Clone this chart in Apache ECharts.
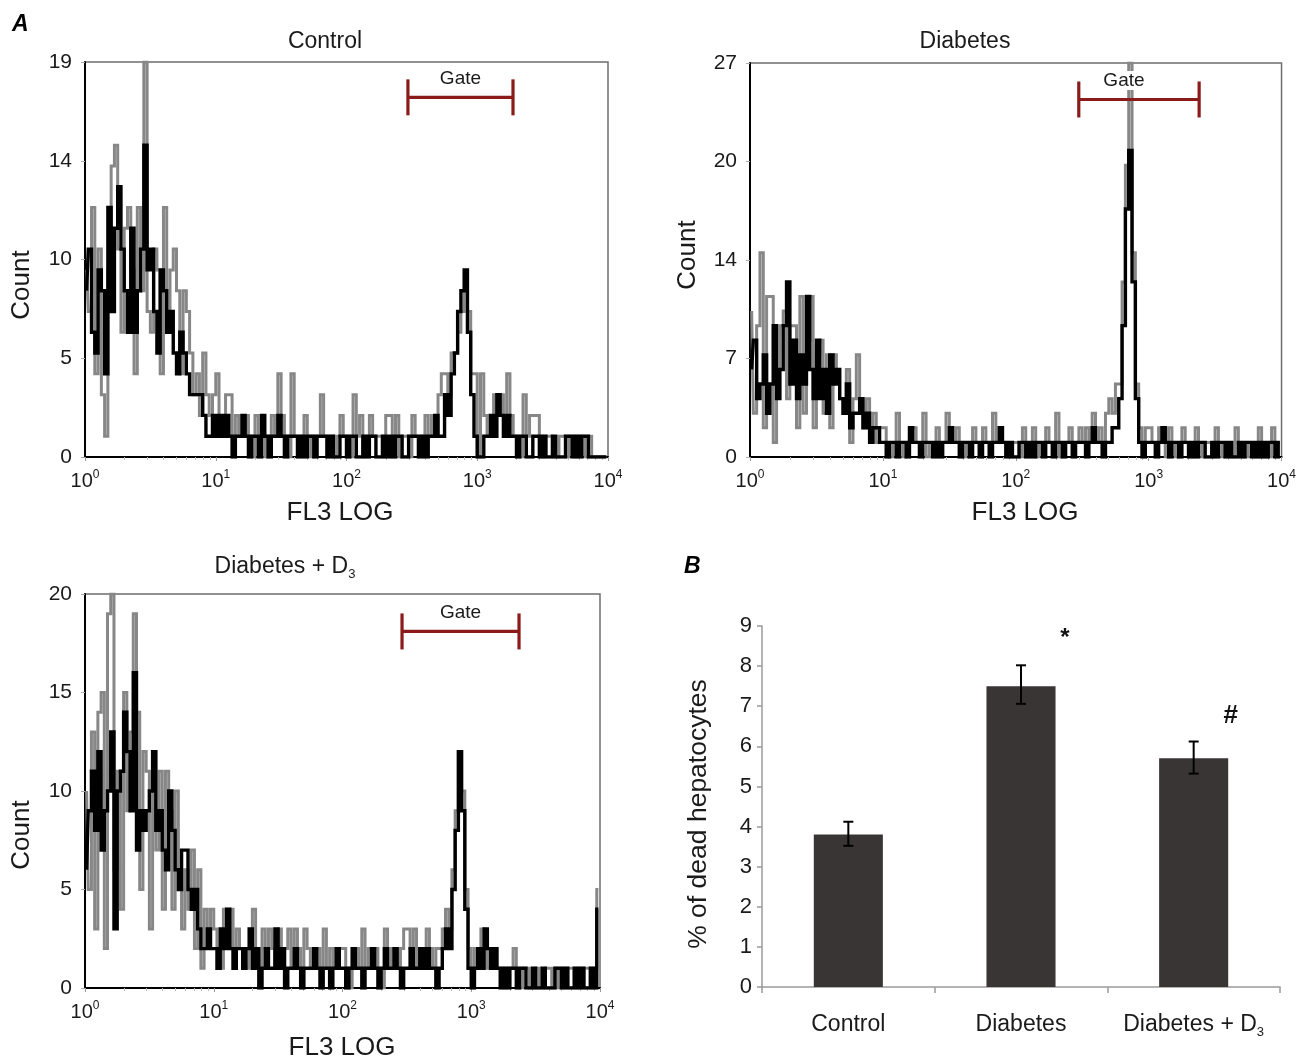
<!DOCTYPE html>
<html>
<head>
<meta charset="utf-8">
<script src="https://cdn.jsdelivr.net/npm/echarts@6/dist/echarts.min.js"></script>
<style>
html,body{margin:0;padding:0;background:#fff;}
#chart{width:1299px;height:1062px;}
</style>
</head>
<body>
<div id="chart"></div>
<script>
// ---------------- DATA ----------------
// Histogram counts, 40 channels per decade from 10^0 to 10^4 (160 channels)
const controlBlack = [
  8,10,6,5,9,8,4,12,7,11, 13,10,8,6,11,6,8,10,15,9, 10,7,5,9,8,6,7,5,4,6, 5,4,3,3,3,3,2,1,1,2,
  1,2,1,2,1,0,1,1,2,1, 0,1,1,0,2,1,0,1,1,2, 1,0,1,1,1,0,1,0,1,1, 0,1,1,1,0,1,0,0,1,1,
  0,1,1,0,0,1,0,1,1,0, 0,1,0,1,0,1,1,0,0,1, 1,1,0,1,0,1,1,2,1,1, 3,2,4,5,7,8,9,6,3,1,
  0,0,1,1,2,1,3,2,1,2, 1,1,0,1,1,0,0,1,1,0, 1,0,0,1,0,0,0,1,1,0, 1,0,1,1,0,0,0,0,0,0
];
const controlGray = [
  9,7,12,4,10,3,1,9,14,15, 10,6,11,12,9,4,12,8,19,7, 6,10,9,4,12,7,9,10,8,4, 8,7,5,3,4,2,5,3,2,3,
  4,1,2,3,3,1,2,1,1,2, 1,0,2,1,1,0,1,2,1,4, 2,1,0,4,1,1,1,2,1,0, 1,1,3,1,1,1,0,1,2,1,
  1,0,3,1,2,0,1,2,1,1, 1,0,2,2,0,2,0,1,1,0, 2,1,1,1,2,1,2,1,3,4, 4,3,5,5,6,7,8,7,4,4,
  0,4,2,1,1,3,2,3,2,4, 2,1,1,0,3,1,2,2,2,1, 0,1,1,0,0,1,1,0,1,1, 0,1,1,0,1,0,0,0,0,0
];
const diabetesBlack = [
  6,8,4,5,7,3,5,9,4,6, 9,12,5,8,4,7,5,11,6,4, 8,4,6,3,7,5,6,4,3,5, 2,3,3,4,2,3,1,2,2,1,
  1,0,1,1,0,1,1,0,2,1, 1,0,1,1,1,0,1,0,1,1, 2,1,1,0,1,1,0,1,1,0, 1,1,0,1,1,2,1,0,1,0,
  0,1,1,0,1,0,1,1,0,1, 1,0,1,1,0,1,1,0,1,1, 1,0,1,2,1,1,0,1,1,2, 2,4,9,17,21,12,4,1,0,1,
  1,1,0,1,2,1,0,1,1,0, 1,1,0,1,0,1,1,0,0,1, 0,1,1,0,1,0,0,1,0,1, 1,0,1,0,1,0,1,1,0,1
];
const diabetesGray = [
  10,3,9,14,2,11,11,1,6,9, 10,4,9,9,2,11,3,8,11,2, 7,8,3,7,2,7,6,4,3,6, 1,4,7,4,2,4,1,3,1,2,
  2,1,0,1,3,1,0,1,2,2, 1,1,3,0,1,1,2,1,1,3, 1,1,2,1,0,1,1,2,1,1, 2,1,1,3,1,1,1,1,0,1,
  1,0,2,1,1,2,0,1,1,2, 1,1,3,0,1,1,2,1,1,2, 1,2,1,3,1,2,1,3,4,3, 5,5,12,20,27,14,5,2,1,2,
  2,1,1,2,1,0,2,1,0,1, 2,1,1,0,2,1,0,1,1,0, 2,1,0,1,1,0,2,1,1,0, 1,1,0,2,0,1,0,2,1,1
];
const d3Black = [
  6,9,11,8,12,7,9,10,13,3, 10,11,14,12,9,16,7,9,8,9, 10,12,8,9,7,6,10,8,6,5, 7,7,5,4,5,3,2,2,3,2,
  2,1,3,2,4,2,1,2,2,1, 2,3,1,2,0,1,2,1,1,3, 1,2,0,1,1,2,1,0,1,1, 1,2,1,0,1,1,0,1,2,1,
  1,0,1,2,1,1,0,1,1,2, 1,0,1,2,1,1,2,1,0,1, 1,2,1,1,2,1,2,1,1,0, 1,2,3,2,5,8,12,9,4,1,
  0,1,2,1,3,2,1,2,1,0, 1,0,1,1,0,1,1,0,0,1, 0,0,1,0,0,0,1,1,0,1, 0,0,1,0,1,0,0,1,0,4
];
const d3Gray = [
  10,5,13,3,14,15,2,19,20,6, 11,4,15,9,13,19,14,5,12,11, 3,12,7,11,4,11,9,4,10,6, 3,6,4,7,2,6,1,4,2,4,
  3,2,1,4,2,4,1,3,2,2, 1,2,4,2,1,3,2,3,2,1, 3,1,2,3,1,3,2,1,3,2, 1,1,2,1,3,1,2,1,1,2,
  2,1,0,1,2,1,3,1,2,1, 2,1,0,3,1,2,1,1,2,3, 3,2,3,1,1,2,3,2,1,2, 2,3,4,3,6,9,12,10,5,2,
  1,2,1,3,2,1,2,1,1,1, 0,1,1,2,1,0,1,1,0,0, 1,0,0,1,1,0,1,0,1,0, 1,1,0,1,0,1,1,0,1,5
];
const yMaxes = [19, 27, 20];
const yIntervals = [4.75, 6.75, 5];
// gate: [start, end, height]
const gateControl = [295, 1877, 17.3];
const gateDiabetes = [298, 2398, 24.5];
const gateD3 = [290, 2350, 18.1];

// Panel B
const barCategories = ['Control', 'Diabetes', 'Diabetes + D3'];
const barValues = [3.8, 7.5, 5.7];
const errLow = [3.52, 7.06, 5.32];
const errHigh = [4.12, 8.02, 6.12];
const sigMarks = [['', 0], ['*', 8.85], ['#', 6.75]];

// ---------------- HELPERS ----------------
const FONT = "'Liberation Sans', Arial, Helvetica, sans-serif";
const TXT = '#1a1a1a';
const BINS_PER_DECADE = 40;
function channelValue(i) { return Math.pow(10, (i + 0.5) / BINS_PER_DECADE); }
function toPairs(arr) { return arr.map((v, i) => [channelValue(i), v]); }

const histGrids = [
  {left: 85, top: 62, width: 523, height: 395},
  {left: 750, top: 63, width: 535, height: 394},
  {left: 85, top: 594, width: 515, height: 394}
];
const histData = [
  [controlGray, controlBlack, gateControl],
  [diabetesGray, diabetesBlack, gateDiabetes],
  [d3Gray, d3Black, gateD3]
];

const grids = histGrids.map(g => Object.assign({show: true, borderColor: '#6e6e6e', borderWidth: 1.5, backgroundColor: 'transparent'}, g));
grids.push({left: 762, top: 626, width: 518, height: 361});

const xAxes = [], yAxes = [], series = [];
histGrids.forEach((g, k) => {
  xAxes.push({
    type: 'log', logBase: 10, min: 1, max: 10000, gridIndex: k,
    axisLine: {show: true, lineStyle: {color: '#000', width: 2}},
    axisTick: {show: true, length: 4, lineStyle: {color: '#999', width: 1}},
    minorTick: {show: true, splitNumber: 9, length: 3, lineStyle: {color: '#bbb'}},
    splitLine: {show: false},
    axisLabel: {
      margin: 12,
      formatter: v => '{b|10}{s|' + Math.round(Math.log10(v)) + '}',
      rich: {
        b: {fontSize: 20, fontFamily: FONT, color: TXT, lineHeight: 24},
        s: {fontSize: 12, fontFamily: FONT, color: TXT, lineHeight: 13, verticalAlign: 'top'}
      }
    }
  });
  yAxes.push({
    type: 'value', min: 0, max: yMaxes[k], interval: yIntervals[k], gridIndex: k,
    axisLine: {show: true, lineStyle: {color: '#000', width: 2}},
    axisTick: {show: true, length: 4, lineStyle: {color: '#aaa'}},
    splitLine: {show: false},
    axisLabel: {margin: 13, fontSize: 21, fontFamily: FONT, color: TXT, formatter: v => String(Math.round(v))}
  });
  const [gray, black, gate] = histData[k];
  series.push({
    type: 'line', xAxisIndex: k, yAxisIndex: k, data: toPairs(gray), step: 'middle',
    symbol: 'none', showSymbol: false, lineStyle: {color: '#878787', width: 3, join: 'miter'}, z: 2, silent: true
  });
  series.push({
    type: 'line', xAxisIndex: k, yAxisIndex: k, data: toPairs(black), step: 'middle',
    symbol: 'none', showSymbol: false, lineStyle: {color: '#000', width: 3.4, join: 'miter'}, z: 3, silent: true
  });
  series.push({
    type: 'custom', xAxisIndex: k, yAxisIndex: k, data: [gate], clip: false, z: 5, silent: true,
    encode: {x: [0, 1], y: 2},
    renderItem: (params, api) => {
      const a = api.coord([api.value(0), api.value(2)]);
      const b = api.coord([api.value(1), api.value(2)]);
      const h = 18, col = '#8b1a1a';
      const st = {stroke: col, lineWidth: 3.2};
      return {type: 'group', children: [
        {type: 'line', shape: {x1: a[0], y1: a[1], x2: b[0], y2: b[1]}, style: st},
        {type: 'line', shape: {x1: a[0], y1: a[1] - h, x2: a[0], y2: a[1] + h}, style: st},
        {type: 'line', shape: {x1: b[0], y1: b[1] - h, x2: b[0], y2: b[1] + h}, style: st},
        {type: 'text', x: (a[0] + b[0]) / 2 + (k === 1 ? -15 : 0), y: a[1] - 19,
          style: {text: 'Gate', fill: TXT, font: '19px ' + FONT, align: 'center', verticalAlign: 'middle',
                  backgroundColor: '#fff', padding: [0, 2]}}
      ]};
    }
  });
});

// Panel B axes
xAxes.push({
  type: 'category', gridIndex: 3, data: barCategories,
  axisLine: {show: true, lineStyle: {color: '#9a9a9a', width: 1.5}},
  axisTick: {show: true, interval: 0, length: 6, lineStyle: {color: '#9a9a9a', width: 1.5}},
  axisLabel: {
    interval: 0, margin: 24, fontSize: 23, fontFamily: FONT, color: TXT, lineHeight: 28,
    formatter: v => v === 'Diabetes + D3' ? 'Diabetes + D{s|3}' : v,
    rich: {s: {fontSize: 13, fontFamily: FONT, color: TXT, lineHeight: 13, verticalAlign: 'bottom'}}
  }
});
yAxes.push({
  type: 'value', gridIndex: 3, min: 0, max: 9, interval: 1,
  axisLine: {show: true, lineStyle: {color: '#9a9a9a', width: 1.5}},
  axisTick: {show: true, length: 5, lineStyle: {color: '#9a9a9a', width: 1.5}},
  splitLine: {show: false},
  axisLabel: {margin: 10, fontSize: 22, fontFamily: FONT, color: TXT}
});
series.push({
  type: 'bar', xAxisIndex: 3, yAxisIndex: 3, data: barValues, barWidth: '40%',
  itemStyle: {color: '#3a3535'}, silent: true, z: 2
});
series.push({
  type: 'custom', xAxisIndex: 3, yAxisIndex: 3, z: 4, silent: true,
  data: barValues.map((v, i) => [i, errLow[i], errHigh[i]]),
  encode: {x: 0, y: [1, 2]},
  renderItem: (params, api) => {
    const lo = api.coord([api.value(0), api.value(1)]);
    const hi = api.coord([api.value(0), api.value(2)]);
    const w = 5, st = {stroke: '#000', lineWidth: 2};
    return {type: 'group', children: [
      {type: 'line', shape: {x1: lo[0], y1: lo[1], x2: hi[0], y2: hi[1]}, style: st},
      {type: 'line', shape: {x1: hi[0] - w, y1: hi[1], x2: hi[0] + w, y2: hi[1]}, style: st},
      {type: 'line', shape: {x1: lo[0] - w, y1: lo[1], x2: lo[0] + w, y2: lo[1]}, style: st}
    ]};
  }
});
series.push({
  type: 'custom', xAxisIndex: 3, yAxisIndex: 3, z: 4, silent: true,
  data: sigMarks.map((m, i) => [i, m[1], m[0]]).filter(d => d[2] !== ''),
  encode: {x: 0, y: 1},
  renderItem: (params, api) => {
    const p = api.coord([api.value(0), api.value(1)]);
    const mark = sigMarks[api.value(0)][0];
    return {type: 'text', x: p[0] + (mark === '*' ? 44 : 37), y: p[1] + (mark === '*' ? 6 : 0),
      style: {text: mark, fill: '#111', font: 'bold ' + (mark === '*' ? 24 : 26) + 'px ' + FONT,
              align: 'center', verticalAlign: 'middle'}};
  }
});

function txt(text, x, y, size, opts) {
  return Object.assign({
    type: 'text', x: x, y: y, silent: true,
    style: {text: text, fill: TXT, font: size + 'px ' + FONT, align: 'center', verticalAlign: 'middle'}
  }, opts || {});
}
const graphics = [
  {type: 'text', x: 12, y: 25, style: {text: 'A', fill: '#000', font: 'italic bold 23px ' + FONT, align: 'left', verticalAlign: 'middle'}},
  {type: 'text', x: 684, y: 567, style: {text: 'B', fill: '#000', font: 'italic bold 23px ' + FONT, align: 'left', verticalAlign: 'middle'}},
  txt('Control', 325, 42, 23),
  txt('Diabetes', 965, 42, 23),
  {type: 'text', x: 285, y: 567, style: {text: 'Diabetes + D{s|3}', fill: TXT, font: '23px ' + FONT, align: 'center', verticalAlign: 'middle',
     lineHeight: 28, rich: {s: {fontSize: 13, fontFamily: FONT, fill: TXT, lineHeight: 13, verticalAlign: 'bottom'}}}},
  txt('FL3 LOG', 340, 513, 26),
  txt('FL3 LOG', 1025, 513, 26),
  txt('FL3 LOG', 342, 1048, 26),
  txt('Count', 22, 285, 26, {rotation: Math.PI / 2}),
  txt('Count', 688, 255, 26, {rotation: Math.PI / 2}),
  txt('Count', 22, 835, 26, {rotation: Math.PI / 2}),
  txt('% of dead hepatocytes', 699, 814, 26.5, {rotation: Math.PI / 2})
];

const chart = echarts.init(document.getElementById('chart'), null, {renderer: 'canvas'});
chart.setOption({
  backgroundColor: '#fff',
  animation: false,
  textStyle: {fontFamily: FONT},
  grid: grids,
  xAxis: xAxes,
  yAxis: yAxes,
  series: series,
  graphic: graphics
});
</script>
</body>
</html>
